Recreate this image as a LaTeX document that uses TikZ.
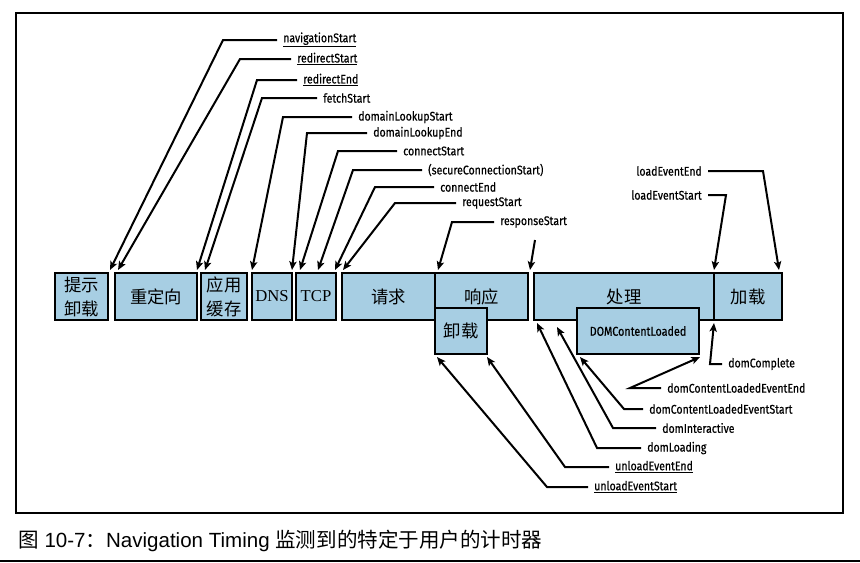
\documentclass[tikz,border=0pt]{standalone}
\usepackage{fontspec}
\usetikzlibrary{calc}
\usetikzlibrary{arrows.meta}

\newfontfamily\cjk{Noto Sans CJK SC}
\newfontfamily\lblfont[FakeStretch=0.84,FakeBold=0.5]{Fira Sans}
\newfontfamily\boxserif{Liberation Serif}
\newfontfamily\capfont{Liberation Sans}
\definecolor{boxblue}{RGB}{167,206,227}

\tikzset{
  box/.style={draw, line width=1.6pt, fill=boxblue, anchor=north west, outer sep=0pt,
    inner sep=0pt, minimum height=35.25pt, align=center,
    font=\cjk\fontsize{13}{18}\selectfont},
  lowbox/.style={box, minimum height=34.5pt},
  lbl/.style={font=\lblfont\fontsize{9.4}{10}\selectfont, inner xsep=4.5pt, inner ysep=1pt},
  arr/.style={line width=1.5pt, -{Stealth[length=6.5pt,width=5.5pt,inset=1.5pt]}},
}

\begin{document}
\begin{tikzpicture}[x=0.75pt,y=-0.75pt]
    \useasboundingbox (0,0) rectangle (860,562);
    \draw[line width=0.8pt] (16,13) rectangle (843,513);

    % timeline
    \node[box, minimum width=39.75pt] (unloadPrev) at (55,273) {提示\\卸载};
    \node[box, minimum width=61.5pt] (redirect) at (115,273) {重定向};
    \node[box, minimum width=34.5pt] (appcache) at (201,273) {应用\\缓存};
    \node[box, minimum width=30pt, font=\boxserif\fontsize{12.5}{14}\selectfont] (dns) at (252,273) {DNS};
    \node[box, minimum width=30pt, font=\boxserif\fontsize{12.5}{14}\selectfont] (tcp) at (296,273) {TCP};
    \node[box, minimum width=69.75pt] (request) at (342,273) {请求};
    \node[box, minimum width=69.75pt] (response) at (435,273) {响应};
    \node[lowbox, minimum width=39pt] (unload) at (435,308) {卸载};
    \node[box, minimum width=135pt] (processing) at (534,273) {处理};
    \node[box, minimum width=51pt] (onload) at (714,273) {加载};
    \node[lowbox, minimum width=91.5pt, font=\lblfont\fontsize{9.6}{10}\selectfont] (dcl) at (577,308) {DOMContentLoaded};

    % labels above
    \node[lbl, anchor=west] (navStart) at (277,40) {\underline{navigationStart}};
    \node[lbl, anchor=west] (redStart) at (291,59) {\underline{redirectStart}};
    \node[lbl, anchor=west] (redEnd) at (297,80) {\underline{redirectEnd}};
    \node[lbl, anchor=west] (fetchStart) at (317,98) {fetchStart};
    \node[lbl, anchor=west] (dnsStart) at (352,117) {domainLookupStart};
    \node[lbl, anchor=west] (dnsEnd) at (367,133) {domainLookupEnd};
    \node[lbl, anchor=west] (conStart) at (397,151) {connectStart};
    \node[lbl, anchor=west] (secStart) at (422,170) {(secureConnectionStart)};
    \node[lbl, anchor=west] (conEnd) at (434,187) {connectEnd};
    \node[lbl, anchor=west] (reqStart) at (456,203) {requestStart};
    \node[lbl, anchor=west] (resStart) at (494,222) {responseStart};
    \coordinate (resEnd) at (535,240);
    \node[lbl, anchor=east] (loadEnd) at (708,171) {loadEventEnd};
    \node[lbl, anchor=east] (loadStart) at (708,195) {loadEventStart};

    \draw[arr] (navStart.west) -- ++(-54,0) -- ($(unloadPrev.north east)+(2,-3)$);
    \draw[arr] (redStart.west) -- ++(-51,0) -- ($(redirect.north west)+(3,-3)$);
    \draw[arr] (redEnd.west) -- ++(-40,0) -- ($(redirect.north east)+(0,-3)$);
    \draw[arr] (fetchStart.west) -- ++(-55,0) -- ($(appcache.north west)+(4,-3)$);
    \draw[arr] (dnsStart.west) -- ++(-69,0) -- ($(dns.north west)+(0,-3)$);
    \draw[arr] (dnsEnd.west) -- ++(-60,0) -- ($(dns.north east)+(0,-3)$);
    \draw[arr] (conStart.west) -- ++(-59,0) -- ($(tcp.north west)+(4,-3)$);
    \draw[arr] (secStart.west) -- ++(-69,0) -- ($(tcp.north)+(2,-3)$);
    \draw[arr] (conEnd.west) -- ++(-59,0) -- ($(tcp.north east)+(-1,-3)$);
    \draw[arr] (reqStart.west) -- ++(-61,0) -- ($(request.north west)+(1,-3)$);
    \draw[arr] (resStart.west) -- ++(-42,0) -- ($(response.north west)+(3,-3)$);
    \draw[arr] (resEnd) -- ($(response.north east)+(2,-3)$);
    \draw[arr] (loadEnd.east) -- ++(55,0) -- ($(onload.north east)+(-3,-3)$);
    \draw[arr] (loadStart.east) -- ++(18,0) -- ($(onload.north west)+(0,-3)$);

    % labels below
    \node[lbl, anchor=west] (domComplete) at (722,364) {domComplete};
    \node[lbl, anchor=west] (dclEnd) at (661,388) {domContentLoadedEventEnd};
    \node[lbl, anchor=west] (dclStart) at (643,409) {domContentLoadedEventStart};
    \node[lbl, anchor=west] (domInter) at (656,428) {domInteractive};
    \node[lbl, anchor=west] (domLoading) at (641,448) {domLoading};
    \node[lbl, anchor=west] (unlEnd) at (609,467) {\underline{unloadEventEnd}};
    \node[lbl, anchor=west] (unlStart) at (588,487) {\underline{unloadEventStart}};

    \draw[arr] (domComplete.west) -- ++(-12,0) -- ($(onload.south west)+(0,3)$);
    \draw[arr] (dclEnd.west) -- ++(-31,0) -- ($(dcl.south east)+(1,3)$);
    \draw[arr] (dclStart.west) -- ++(-19,0) -- ($(dcl.south west)+(3,3)$);
    \draw[arr] (domInter.west) -- ++(-43,0) -- ($(processing.south west)+(23,7)$);
    \draw[arr] (domLoading.west) -- ++(-44,0) -- ($(processing.south west)+(3,3)$);
    \draw[arr] (unlEnd.west) -- ++(-44,0) -- ($(unload.south east)+(0,3)$);
    \draw[arr] (unlStart.west) -- ++(-41,0) -- ($(unload.south west)+(2,3)$);

    % caption
    \node[anchor=west, inner sep=0pt, font=\capfont\fontsize{15.4}{17}\selectfont] (caption) at (18,541)
        {{\cjk 图} 10-7{\cjk ：}Navigation Timing {\cjk 监测到的特定于用户的计时器}};
    \draw[line width=1.2pt] (0,561) -- (860,561);
\end{tikzpicture}
\end{document}
